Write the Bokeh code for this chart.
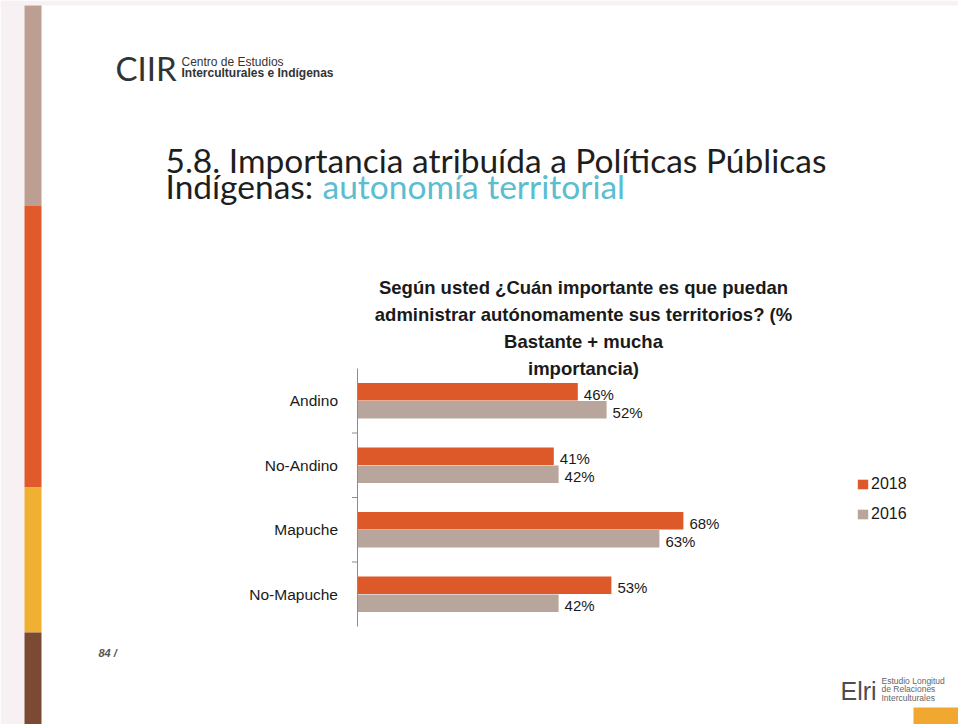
from bokeh.plotting import figure
from bokeh.models import (Range1d, FactorRange, CategoricalAxis, Legend, LegendItem,
                          ColumnDataSource)
from bokeh.transform import dodge
from bokeh.core.properties import value
from bokeh.embed import file_html
from bokeh.resources import INLINE

# ---------------- data ----------------
categories = ["Andino", "No-Andino", "Mapuche", "No-Mapuche"]
series_names = ["2018", "2016"]
values_2018 = [46, 41, 68, 53]
values_2016 = [52, 42, 63, 42]

chart_title_lines = [
    "Según usted ¿Cuán importante es que puedan",
    "administrar autónomamente sus territorios? (%",
    "Bastante + mucha",
    "importancia)",
]
slide_title_line1 = "5.8. Importancia atribuída a Políticas Públicas"
slide_title_line2a = "Indígenas:"
slide_title_line2b = "autonomía territorial"

# ---------------- styles / layout ----------------
ORANGE = "#de5929"
GREY = "#b8a59b"
TXT = "#1a1a1a"
AXIS = "#8c8c8c"
SANS = "Liberation Sans"

W, H = 958, 724
X0 = 356.5            # pixel where 0 % lies (the axis)
PX_PER_PCT = 4.8
SLOT_TOP, SLOT_BOTTOM = 368.0, 626.0
N = len(categories)
UNIT = (SLOT_BOTTOM - SLOT_TOP) / N
PAD_BOTTOM = (H - SLOT_BOTTOM) / UNIT
GROUP_GAP = SLOT_TOP / UNIT - PAD_BOTTOM - 1
chart_factors = [("chart", c) for c in categories]
top_factor = ("top", " ")
LENGTH = N + GROUP_GAP + 1


def xs(px):
    return (px - X0) / PX_PER_PCT


def ys(py):
    return N + (SLOT_TOP - py) / UNIT


p = figure(width=W, height=H,
           x_range=Range1d(xs(0), xs(W)),
           y_range=FactorRange(factors=chart_factors[::-1] + [top_factor],
                               group_padding=GROUP_GAP,
                               range_padding=2 * PAD_BOTTOM / LENGTH,
                               range_padding_units="percent"),
           x_axis_location=None, y_axis_location=None,
           output_backend="svg", toolbar_location=None,
           min_border=0, outline_line_color=None,
           background_fill_color="white", border_fill_color="white")
p.xgrid.grid_line_color = None
p.ygrid.grid_line_color = None

# ---------------- slide decorations ----------------
def rect(x0, y0, x1, y1, color):
    p.quad(left=[xs(x0)], right=[xs(x1)], top=[ys(y0)], bottom=[ys(y1)],
           fill_color=color, line_color=None)


rect(0, 0, W, 5, "#f7f1f3")
rect(0, 0, 24, H, "#f7f1f3")
rect(24, 5, 41, 205, "#bc9f92")
rect(24, 205, 41, 487, "#e05a2b")
rect(24, 487, 41, 632, "#f0b032")
rect(24, 632, 41, H, "#7a4a33")
rect(913, 707, W, H, "#f0a830")


def txt(x, y, text, font, size, color, style="normal", align="left"):
    # y is the vertical centre of the capital letters
    p.text(x=[xs(x)], y=[ys(y)], text=[text], text_font=value(font), text_font_size=size,
           text_color=color, text_font_style=style, text_align=align,
           text_baseline="middle")


# CIIR logo
txt(115, 68, "CIIR", "Lato", "33px", "#333333")
txt(181, 62, "Centro de Estudios", SANS, "12px", "#333333")
txt(181, 72.5, "Interculturales e Indígenas", SANS, "12px", "#333333", style="bold")

# slide title
txt(165, 159.5, slide_title_line1, "Lato", "33.5px", "#1e1e1e")
txt(165, 185.5, slide_title_line2a, "Lato", "33.5px", "#1e1e1e")
txt(322, 185.5, slide_title_line2b, "Lato", "33.5px", "#5bbdd0")

# chart title
for i, line in enumerate(chart_title_lines):
    txt(583, 287 + 27 * i, line, SANS, "18.5px", TXT, style="bold", align="center")

# page number
txt(98, 652, "84 /", SANS, "11px", "#555555", style="bold italic")

# EIRI logo
txt(840, 690, "Elri", SANS, "25px", "#4d4d4d")
txt(881, 680, "Estudio Longitud", SANS, "8.5px", "#666666")
txt(881, 688.5, "de Relaciones", SANS, "8.5px", "#666666")
txt(881, 697, "Interculturales", SANS, "8.5px", "#666666")

# ---------------- chart ----------------
cat_axis = CategoricalAxis(fixed_location=0, bounds=(0, N),
                           axis_line_color=AXIS, major_tick_line_color=None,
                           minor_tick_line_color=None, major_tick_out=0, major_tick_in=0,
                           major_label_text_font=SANS, major_label_text_font_size="15.5px",
                           major_label_text_color=TXT, major_label_standoff=19,
                           group_text_font_size="1px", group_text_alpha=0)
p.add_layout(cat_axis, "left")

# small ticks on the boundaries between categories
bounds_y = list(range(1, N))
p.segment(x0=[0] * len(bounds_y), x1=[xs(X0 - 5)] * len(bounds_y), y0=bounds_y, y1=bounds_y,
          line_color=AXIS, line_width=1)

src = ColumnDataSource(dict(
    fac=chart_factors,
    v2018=values_2018, v2016=values_2016,
    t2018=[f"{v}%" for v in values_2018],
    t2016=[f"{v}%" for v in values_2016],
))

r18 = p.hbar(y=dodge("fac", 0.14, range=p.y_range), left=0, right="v2018",
             height=0.27, source=src, fill_color=ORANGE, line_color=None)
r16 = p.hbar(y=dodge("fac", -0.14, range=p.y_range), left=0, right="v2016",
             height=0.27, source=src, fill_color=GREY, line_color=None)

for col, off in (("2018", 0.14), ("2016", -0.14)):
    p.text(x="v" + col, y=dodge("fac", off, range=p.y_range), text="t" + col,
           source=src, x_offset=6, y_offset=2.5, text_align="left",
           text_baseline="middle", text_font=value(SANS),
           text_font_size="15px", text_color=TXT)

legend = Legend(items=[LegendItem(label=series_names[0], renderers=[r18]),
                       LegendItem(label=series_names[1], renderers=[r16])],
                location=(856, H - 522.5), orientation="vertical",
                glyph_width=13, glyph_height=12, label_height=12,
                label_standoff=2, spacing=12, padding=0, margin=0,
                border_line_color=None, background_fill_alpha=0,
                label_text_font=SANS, label_text_font_size="16px",
                label_text_color=TXT)
p.add_layout(legend)

open("out.html", "w").write(file_html(p, INLINE))
